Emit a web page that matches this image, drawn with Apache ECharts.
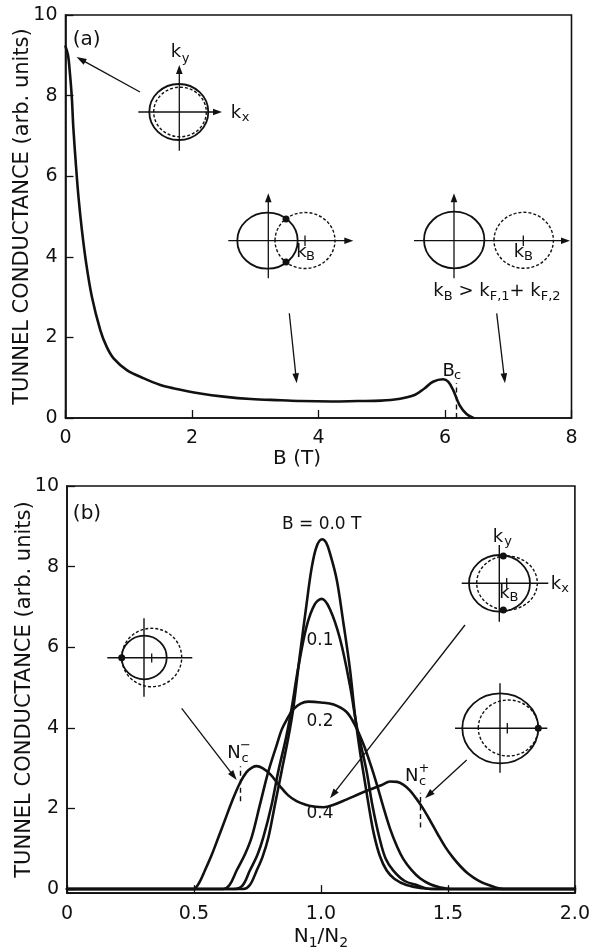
<!DOCTYPE html>
<html><head><meta charset="utf-8">
<script src="https://cdn.jsdelivr.net/npm/echarts@6/dist/echarts.min.js"></script>
<style>html,body{margin:0;padding:0;background:#fff}#c{width:593px;height:951px}</style>
</head><body><div id="c"></div>
<script>
// ---------- Panel (a): conductance vs magnetic field ----------
const fieldB = [0, 0.04, 0.07, 0.1, 0.124, 0.163, 0.205, 0.259, 0.327, 0.417, 0.55, 0.65, 0.76, 0.97, 1.23, 1.5, 1.7, 2.13, 2.5, 2.93, 3.4, 3.72, 4.2, 4.62, 4.99, 5.26, 5.52, 5.68, 5.81, 5.97, 6.05, 6.13, 6.23, 6.34, 6.45];
const conductanceA = [9.22, 9.0, 8.55, 7.95, 7.2, 6.32, 5.49, 4.67, 3.84, 3.01, 2.18, 1.77, 1.48, 1.19, 0.99, 0.82, 0.74, 0.61, 0.53, 0.47, 0.44, 0.42, 0.41, 0.42, 0.43, 0.47, 0.57, 0.74, 0.9, 0.96, 0.9, 0.69, 0.32, 0.1, 0.0];
const criticalField = 6.17;
const xTicksA = [0, 2, 4, 6, 8];
const yTicks = [0, 2, 4, 6, 8, 10];

// ---------- Panel (b): conductance vs density ratio N1/N2 ----------
const ratio00 = [0, 0.694, 0.72, 0.747, 0.77, 0.793, 0.819, 0.845, 0.871, 0.891, 0.917, 0.944, 0.963, 0.983, 1.005, 1.02, 1.035, 1.062, 1.088, 1.114, 1.134, 1.154, 1.172, 1.19, 1.209, 1.232, 1.259, 1.29, 1.337, 1.4, 1.45, 2.0];
const cond00  = [0, 0, 0.1, 0.46, 0.8, 1.28, 2.1, 2.92, 3.74, 4.48, 5.8, 7.1, 7.95, 8.5, 8.68, 8.6, 8.34, 7.68, 6.62, 5.47, 4.32, 3.4, 2.7, 2.0, 1.35, 0.82, 0.46, 0.25, 0.1, 0.02, 0, 0];
const ratio01 = [0, 0.655, 0.69, 0.72, 0.75, 0.773, 0.806, 0.832, 0.862, 0.885, 0.91, 0.944, 0.976, 1.003, 1.035, 1.075, 1.114, 1.14, 1.16, 1.18, 1.202, 1.23, 1.255, 1.285, 1.33, 1.377, 1.43, 2.0];
const cond01  = [0, 0, 0.08, 0.46, 0.85, 1.28, 2.1, 2.92, 3.74, 4.5, 5.47, 6.53, 7.07, 7.2, 6.95, 6.21, 5.06, 4.07, 3.5, 2.92, 2.1, 1.28, 0.75, 0.46, 0.2, 0.1, 0, 0];
const ratio02 = [0, 0.615, 0.64, 0.668, 0.7, 0.727, 0.76, 0.793, 0.826, 0.845, 0.865, 0.89, 0.92, 0.95, 1.0, 1.05, 1.1, 1.134, 1.167, 1.195, 1.22, 1.245, 1.272, 1.3, 1.324, 1.357, 1.39, 1.43, 1.47, 1.51, 2.0];
const cond02  = [0, 0, 0.1, 0.46, 0.85, 1.28, 2.1, 2.92, 3.58, 3.95, 4.2, 4.45, 4.6, 4.65, 4.63, 4.58, 4.4, 4.07, 3.6, 3.1, 2.6, 2.05, 1.5, 1.05, 0.75, 0.47, 0.27, 0.12, 0.04, 0, 0];
const ratio04 = [0, 0.497, 0.52, 0.543, 0.57, 0.596, 0.62, 0.648, 0.68, 0.707, 0.73, 0.747, 0.77, 0.8, 0.839, 0.87, 0.904, 0.94, 0.97, 1.01, 1.05, 1.1, 1.15, 1.193, 1.24, 1.272, 1.3, 1.324, 1.35, 1.375, 1.4, 1.43, 1.46, 1.49, 1.52, 1.55, 1.58, 1.62, 1.66, 1.72, 2.0];
const cond04  = [0, 0, 0.15, 0.46, 0.85, 1.28, 1.68, 2.15, 2.62, 2.9, 3.02, 3.05, 3.0, 2.85, 2.55, 2.33, 2.18, 2.09, 2.05, 2.03, 2.09, 2.22, 2.36, 2.47, 2.58, 2.67, 2.66, 2.59, 2.45, 2.25, 2.02, 1.7, 1.36, 1.04, 0.78, 0.56, 0.38, 0.21, 0.1, 0, 0];
const fieldLabels = ['B = 0.0 T', '0.1', '0.2', '0.4'];
const ncMinus = 0.681, ncPlus = 1.39;
const xTicksB = [0, 0.5, 1.0, 1.5, 2.0];
const xLabelsB = ['0', '0.5', '1.0', '1.5', '2.0'];

const FONT = 'DejaVu Sans';
const ink = '#111';
const zip = (xs, ys) => xs.map((x, i) => [x, ys[i]]);

function curve(xi, yi, data, extra) {
  return Object.assign({
    type: 'line', xAxisIndex: xi, yAxisIndex: yi, data: data,
    showSymbol: false, smooth: 0.35, silent: true,
    lineStyle: { color: ink, width: 2.6, join: 'round', cap: 'round' }, z: 3
  }, extra || {});
}
const dashStyle = { color: ink, width: 1.4, type: [5, 3.5] };
const axisCommon = {
  type: 'value',
  splitLine: { show: false },
  axisLine: { show: true, onZero: false, lineStyle: { color: ink, width: 1.6 } },
  axisTick: { inside: true, length: 8, lineStyle: { color: ink, width: 1.3 } },
  axisLabel: { color: ink, fontFamily: FONT, fontSize: 19 }
};
const nameStyle = { color: ink, fontFamily: FONT, fontSize: 20 };
const yName = 'TUNNEL CONDUCTANCE (arb. units)';

// ---------- annotation helpers (pixel-placed decorations) ----------
const G = [];
function line(x1, y1, x2, y2, w, dash) { G.push({ type: 'line', z: 50, shape: { x1, y1, x2, y2 }, style: { stroke: ink, lineWidth: w || 1.4, lineDash: dash || null } }); }
function ell(cx, cy, rx, ry, w, dash) { G.push({ type: 'ellipse', z: 50, shape: { cx, cy, rx, ry }, style: { fill: null, stroke: ink, lineWidth: w || 1.8, lineDash: dash || null } }); }
function dot(cx, cy, r) { G.push({ type: 'circle', z: 51, shape: { cx, cy, r: r || 3.5 }, style: { fill: ink } }); }
function txt(x, y, s, size, align) { G.push({ type: 'text', z: 52, x, y, style: { text: s, fill: ink, font: size + 'px "' + FONT + '"', align: align || 'center', verticalAlign: 'middle' } }); }
function richTxt(x, y, s, size, subSize) {
  G.push({ type: 'text', z: 52, x, y, style: {
    text: s, fill: ink, font: size + 'px "' + FONT + '"', align: 'center', verticalAlign: 'middle',
    rich: {
      m: { fontFamily: FONT, fontSize: size, lineHeight: size + 6, fill: ink },
      s: { fontFamily: FONT, fontSize: subSize, lineHeight: subSize, verticalAlign: 'bottom', fill: ink }
    }
  } });
}
function arrow(x1, y1, x2, y2, len, half, w) {
  len = len || 10; half = half || 3.3;
  const dx = x2 - x1, dy = y2 - y1, L = Math.hypot(dx, dy), ux = dx / L, uy = dy / L;
  const bx = x2 - ux * len, by = y2 - uy * len;
  line(x1, y1, bx + ux * 1, by + uy * 1, w || 1.3);
  G.push({ type: 'polygon', z: 51, shape: { points: [[x2, y2], [bx - uy * half, by + ux * half], [bx + uy * half, by - ux * half]] }, style: { fill: ink } });
}

// Panel (a) annotations
txt(86.7, 40, '(a)', 20);
ell(178.8, 112, 29.5, 28); ell(180, 112, 26.3, 24.8, 1.4, [3, 2]);
arrow(138.3, 112, 222, 112, 9, 3.3); arrow(179.3, 150.7, 179.3, 65, 9, 3.3);
txt(176, 52, 'k', 18); txt(185.5, 59, 'y', 13);
txt(236, 113, 'k', 18); txt(245.5, 118, 'x', 13);
arrow(140, 92, 76.5, 57);
ell(267.5, 240.7, 30.2, 28); ell(305, 240.5, 30, 28, 1.4, [3, 2]);
arrow(228.3, 240.7, 353.3, 240.7, 9, 3.3); arrow(268.3, 278.3, 268.3, 193.3, 9, 3.3);
line(305, 235.5, 305, 246, 1.3);
dot(286, 219); dot(286, 262);
txt(301.5, 252.5, 'k', 18); txt(310.5, 257, 'B', 13);
ell(454.2, 240, 30.2, 28.3); ell(523.7, 240.3, 29.7, 28, 1.4, [3, 2]);
arrow(414, 240.7, 570, 240.7, 9, 3.3); arrow(454, 278.3, 454, 193.3, 9, 3.3);
line(523.3, 235.5, 523.3, 246, 1.3);
txt(519, 252.5, 'k', 18); txt(528.5, 257, 'B', 13);
richTxt(497, 291, '{m|k}{s|B}{m| > k}{s|F,1}{m|+ k}{s|F,2}', 18, 13);
arrow(289.3, 313.3, 296.7, 383.3); arrow(496.7, 313.3, 505, 383.3);
txt(448.7, 371.5, 'B', 18); txt(457.5, 375.5, 'c', 13);

// Panel (b) annotations
txt(87, 514, '(b)', 20);
txt(321.7, 525, fieldLabels[0], 17);
txt(320, 640.5, fieldLabels[1], 17); txt(320, 721.7, fieldLabels[2], 17); txt(320, 813.3, fieldLabels[3], 17);
txt(234, 753.7, 'N', 18); txt(245, 759, 'c', 13); txt(245.5, 746, '\u2212', 13);
txt(411.7, 776.7, 'N', 18); txt(422.5, 781.7, 'c', 13); txt(424, 769, '+', 13);
ell(144.2, 657.5, 22.5, 21.8); ell(151.7, 657.5, 30, 29.2, 1.4, [3, 2]);
line(107.3, 657.7, 192.3, 657.7); line(144, 618.3, 144, 696.7); line(151.7, 653.5, 151.7, 662.5, 1.3); dot(121.7, 657.7);
ell(499.5, 583.3, 30.5, 28.3); ell(507, 583, 30.3, 27, 1.4, [3, 2]);
line(461.7, 583.3, 548.3, 583.3); line(499.3, 545, 499.3, 621.7); line(506.7, 578, 506.7, 588.5, 1.3);
dot(503.3, 556); dot(503.3, 610);
txt(498, 537, 'k', 18); txt(508, 542, 'y', 13);
txt(556, 584, 'k', 18); txt(565, 589, 'x', 13);
txt(504.5, 593, 'k', 18); txt(514, 597.5, 'B', 13);
ell(500.3, 728.3, 38, 35); ell(508.3, 728, 30, 28, 1.4, [3, 2]);
line(455, 728.3, 547.3, 728.3); line(500, 683.3, 500, 772.7); line(507.3, 723, 507.3, 733.5, 1.3); dot(538.3, 728.3);
arrow(181.7, 708.3, 236.7, 780); arrow(465, 625, 330, 798.3); arrow(466.7, 760, 425, 798.3);

const chart = echarts.init(document.getElementById('c'), null, { renderer: 'canvas' });
chart.setOption({
  animation: false,
  backgroundColor: '#fff',
  grid: [
    { left: 65.5, top: 15, width: 506, height: 403, show: true, borderColor: ink, borderWidth: 1.6 },
    { left: 67, top: 486, width: 509, height: 410, show: true, borderColor: ink, borderWidth: 1.6 }
  ],
  xAxis: [
    Object.assign({}, axisCommon, {
      gridIndex: 0, min: 0, max: 8, interval: 2,
      axisLabel: Object.assign({}, axisCommon.axisLabel, { margin: 11, customValues: xTicksA }),
      axisTick: Object.assign({}, axisCommon.axisTick, { customValues: xTicksA }),
      name: 'B (T)', nameLocation: 'middle', nameGap: 27,
      nameTextStyle: Object.assign({}, nameStyle, { padding: [0, 43, 0, 0] })
    }),
    Object.assign({}, axisCommon, {
      gridIndex: 1, min: 0, max: 2, interval: 0.5,
      axisLabel: Object.assign({}, axisCommon.axisLabel, { margin: 11, formatter: v => xLabelsB[xTicksB.indexOf(v)] }),
      name: 'N{s|1}/N{s|2}', nameLocation: 'middle', nameGap: 27,
      nameTextStyle: Object.assign({}, nameStyle, {
        rich: {
          s: { fontFamily: FONT, fontSize: 14, color: ink, verticalAlign: 'bottom', lineHeight: 14 }
        }, lineHeight: 26
      })
    })
  ],
  yAxis: [
    Object.assign({}, axisCommon, {
      gridIndex: 0, min: 0, max: 10, interval: 2,
      axisLabel: Object.assign({}, axisCommon.axisLabel, { margin: 8 }),
      name: yName, nameLocation: 'middle', nameGap: 32, nameRotate: 90, nameMoveOverlap: false,
      nameTextStyle: Object.assign({}, nameStyle, { fontSize: 21 })
    }),
    Object.assign({}, axisCommon, {
      gridIndex: 1, min: -0.1, max: 10,
      axisLabel: Object.assign({}, axisCommon.axisLabel, { margin: 8, customValues: yTicks }),
      axisTick: Object.assign({}, axisCommon.axisTick, { customValues: yTicks }),
      name: yName, nameLocation: 'middle', nameGap: 32, nameRotate: 90, nameMoveOverlap: false,
      nameTextStyle: Object.assign({}, nameStyle, { fontSize: 21 })
    })
  ],
  series: [
    curve(0, 0, zip(fieldB, conductanceA), { markLine: { silent: true, symbol: 'none', label: { show: false }, lineStyle: dashStyle, data: [[{ coord: [criticalField, 0] }, { coord: [criticalField, 0.86] }]] } }),
    curve(1, 1, zip(ratio00, cond00)),
    curve(1, 1, zip(ratio01, cond01)),
    curve(1, 1, zip(ratio02, cond02)),
    curve(1, 1, zip(ratio04, cond04), { markLine: { silent: true, symbol: 'none', label: { show: false }, lineStyle: dashStyle, data: [[{ coord: [ncMinus, 2.18] }, { coord: [ncMinus, 3.05] }], [{ coord: [ncPlus, 1.53] }, { coord: [ncPlus, 2.39] }]] } })
  ],
  graphic: G
});
</script>
</body></html>
